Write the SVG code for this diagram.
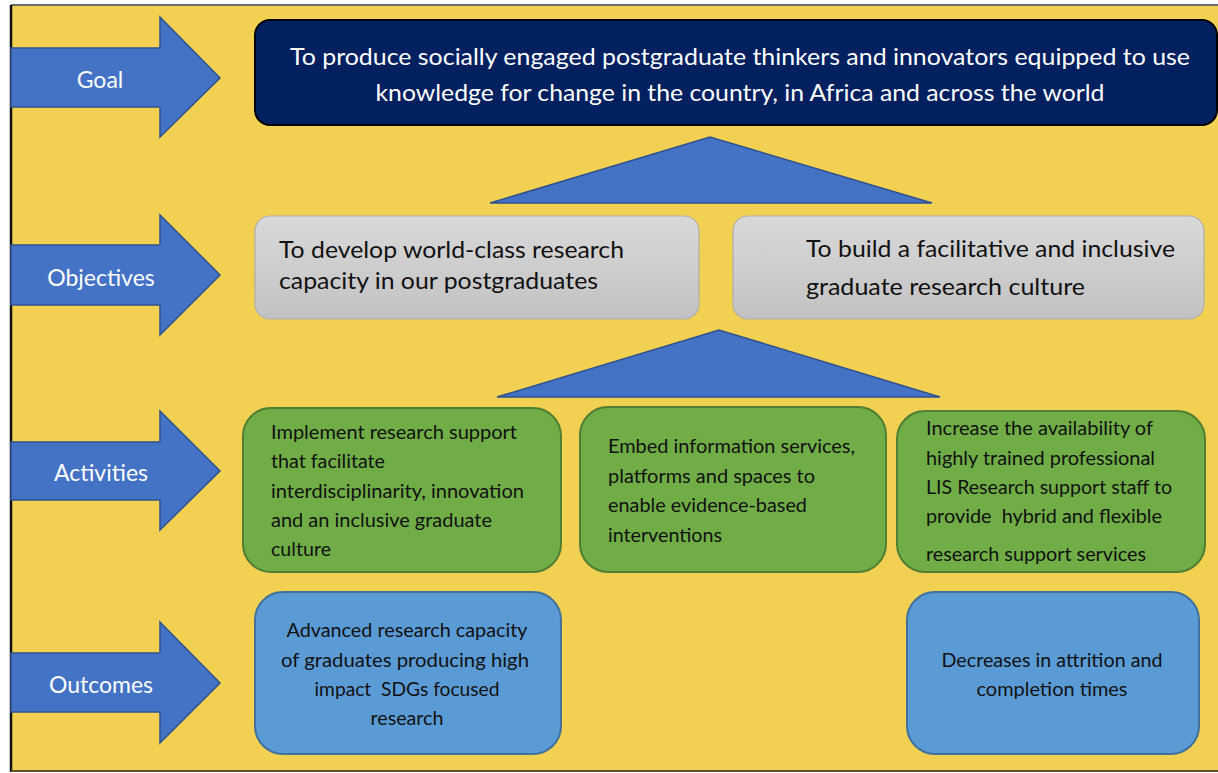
<svg xmlns="http://www.w3.org/2000/svg" width="1218" height="773" viewBox="0 0 1218 773">
<defs>
<linearGradient id="grayGrad" x1="0" y1="0" x2="0" y2="1">
<stop offset="0" stop-color="#D9D9D9"/>
<stop offset="1" stop-color="#C2C2C2"/>
</linearGradient>
</defs>
<style>
.bg{fill:#F2D052}
.arrow{fill:#4472C4;stroke:#2F528F;stroke-width:1.5}
.tri{fill:#4472C4;stroke:#2F528F;stroke-width:1.5}
.goal{fill:#002060;stroke:#000;stroke-width:2}
.obj{fill:url(#grayGrad);stroke:#AFAFAF;stroke-width:1.2}
.act{fill:#70AD47;stroke:#507E32;stroke-width:2}
.out{fill:#5B9BD5;stroke:#41719C;stroke-width:2}
text{font-family:Lato,"Liberation Sans",sans-serif}
.lbl{fill:#fff;font-size:23px;text-anchor:middle}
.big{font-size:23px}
.wt{fill:#fff}
.sm{font-size:18.5px;fill:#111}
.mid{text-anchor:middle}
</style>
<rect class="bg" x="11" y="5" width="1210" height="766"/>
<line x1="11" y1="5" x2="1218" y2="5" stroke="#6B6B6B" stroke-width="2"/>
<line x1="11" y1="5" x2="11" y2="772" stroke="#111" stroke-width="2.5"/>
<line x1="11" y1="771" x2="1218" y2="771" stroke="#5A5228" stroke-width="2"/>

<g id="connectors">
<polygon class="tri" points="490,203 710,137 932,203"/>
<polygon class="tri" points="497,397 719,330 940,397"/>
</g>

<g id="arrow-goal">
<path class="arrow" d="M11,48 H160 V17 L220,78 L160,137 V107 H11 Z"/>
<text class="lbl" x="100" y="88">Goal</text>
</g>
<g id="arrow-objectives">
<path class="arrow" d="M11,245 H160 V215 L220,275 L160,335 V305 H11 Z"/>
<text class="lbl" x="101" y="286">Objectives</text>
</g>
<g id="arrow-activities">
<path class="arrow" d="M11,442 H160 V411 L220,471 L160,530 V500 H11 Z"/>
<text class="lbl" x="101" y="481">Activities</text>
</g>
<g id="arrow-outcomes">
<path class="arrow" d="M11,653 H160 V622 L220,683 L160,743 V712 H11 Z"/>
<text class="lbl" x="101" y="693">Outcomes</text>
</g>

<g id="goal">
<rect class="goal" x="255" y="20" width="962" height="105" rx="15"/>
<text class="big wt mid" x="740" y="65" textLength="900" lengthAdjust="spacingAndGlyphs">To produce socially engaged postgraduate thinkers and innovators equipped to use</text>
<text class="big wt mid" x="740" y="101" textLength="729" lengthAdjust="spacingAndGlyphs">knowledge for change in the country, in Africa and across the world</text>
</g>

<g id="objective-1">
<rect class="obj" x="255" y="216" width="444" height="103" rx="15"/>
<text class="big" x="279" y="258" fill="#111" textLength="345" lengthAdjust="spacingAndGlyphs">To develop world-class research</text>
<text class="big" x="279" y="289" fill="#111" textLength="319" lengthAdjust="spacingAndGlyphs">capacity in our postgraduates</text>
</g>
<g id="objective-2">
<rect class="obj" x="733" y="216" width="471" height="103" rx="15"/>
<text class="big" x="806" y="257" fill="#111" textLength="369" lengthAdjust="spacingAndGlyphs">To build a facilitative and inclusive</text>
<text class="big" x="806" y="295" fill="#111" textLength="279" lengthAdjust="spacingAndGlyphs">graduate research culture</text>
</g>

<g id="activity-1">
<rect class="act" x="243" y="408" width="318" height="164" rx="28"/>
<text class="sm" x="271" y="439" textLength="246" lengthAdjust="spacingAndGlyphs">Implement research support</text>
<text class="sm" x="271" y="468" textLength="114" lengthAdjust="spacingAndGlyphs">that facilitate</text>
<text class="sm" x="271" y="498" textLength="253" lengthAdjust="spacingAndGlyphs">interdisciplinarity, innovation</text>
<text class="sm" x="271" y="527" textLength="221" lengthAdjust="spacingAndGlyphs">and an inclusive graduate</text>
<text class="sm" x="271" y="556" textLength="60" lengthAdjust="spacingAndGlyphs">culture</text>
</g>
<g id="activity-2">
<rect class="act" x="580" y="407" width="306" height="165" rx="28"/>
<text class="sm" x="608" y="453" textLength="247" lengthAdjust="spacingAndGlyphs">Embed information services,</text>
<text class="sm" x="608" y="483" textLength="207" lengthAdjust="spacingAndGlyphs">platforms and spaces to</text>
<text class="sm" x="608" y="512" textLength="199" lengthAdjust="spacingAndGlyphs">enable evidence-based</text>
<text class="sm" x="608" y="542" textLength="114" lengthAdjust="spacingAndGlyphs">interventions</text>
</g>
<g id="activity-3">
<rect class="act" x="897" y="411" width="308" height="161" rx="28"/>
<text class="sm" x="926" y="435" textLength="227" lengthAdjust="spacingAndGlyphs">Increase the availability of</text>
<text class="sm" x="926" y="465" textLength="229" lengthAdjust="spacingAndGlyphs">highly trained professional</text>
<text class="sm" x="926" y="494" textLength="246" lengthAdjust="spacingAndGlyphs">LIS Research support staff to</text>
<text class="sm" x="926" y="523" textLength="236" lengthAdjust="spacingAndGlyphs" xml:space="preserve">provide  hybrid and flexible</text>
<text class="sm" x="926" y="561" textLength="220" lengthAdjust="spacingAndGlyphs">research support services</text>
</g>

<g id="outcome-1">
<rect class="out" x="255" y="592" width="306" height="162" rx="28"/>
<text class="sm mid" x="407" y="637" textLength="241" lengthAdjust="spacingAndGlyphs">Advanced research capacity</text>
<text class="sm mid" x="405" y="667" textLength="248" lengthAdjust="spacingAndGlyphs">of graduates producing high</text>
<text class="sm mid" x="407" y="696" textLength="185" lengthAdjust="spacingAndGlyphs" xml:space="preserve">impact  SDGs focused</text>
<text class="sm mid" x="407" y="725" textLength="73" lengthAdjust="spacingAndGlyphs">research</text>
</g>
<g id="outcome-2">
<rect class="out" x="907" y="592" width="292" height="162" rx="28"/>
<text class="sm mid" x="1052" y="667" textLength="221" lengthAdjust="spacingAndGlyphs">Decreases in attrition and</text>
<text class="sm mid" x="1052" y="696" textLength="151" lengthAdjust="spacingAndGlyphs">completion times</text>
</g>
</svg>
